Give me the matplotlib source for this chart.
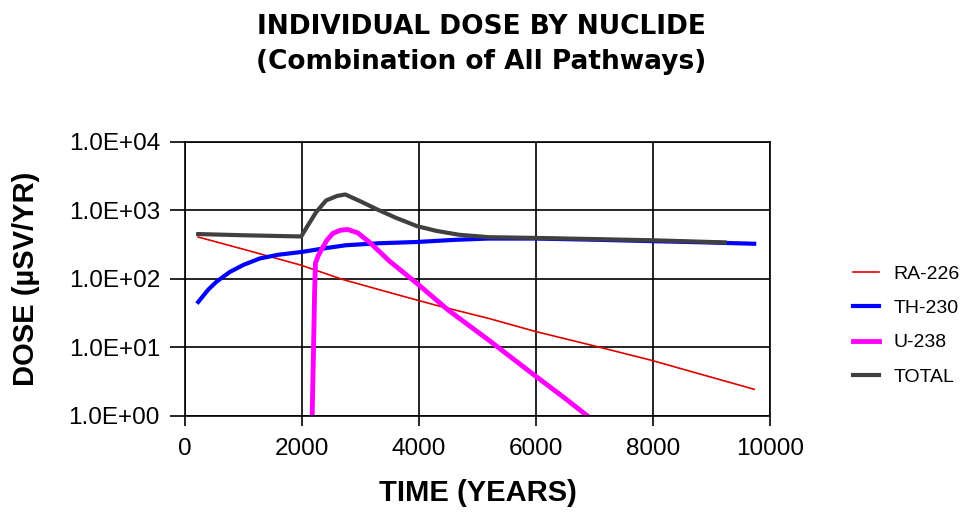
import matplotlib
matplotlib.use("Agg")
import matplotlib.pyplot as plt

# values (years, uSv/yr)
ra_years = [226, 1000, 1986, 2695, 3500, 4300, 5191, 6000, 7000, 7970, 8800, 9730]
ra_dose = [407, 270, 158, 98, 63, 41, 26.5, 17, 10.5, 6.5, 4.1, 2.45]

th_years = [226, 400, 540, 766, 1000, 1277, 1600, 1986, 2400, 2750, 3300, 3971, 4600, 5190, 5987, 7000, 7970, 8900, 9730]
th_dose = [46, 70, 91, 126, 160, 198, 225, 246, 280, 309, 330, 345, 370, 387, 387, 372, 355, 340, 325]

u_years = [2160, 2174, 2196, 2215, 2230, 2280, 2327, 2420, 2524, 2650, 2780, 2950, 3149, 3500, 3971, 4500, 5191, 5928, 6500, 6837, 6950]
u_dose = [0.5, 1.0, 8.3, 60, 170, 220, 260, 360, 458, 510, 525, 470, 345, 180, 85, 35, 12.8, 4.2, 1.8, 1.07, 0.9]

tot_years = [226, 1000, 1986, 2100, 2242, 2412, 2600, 2740, 3000, 3263, 3600, 3971, 4300, 4681, 5190, 6000, 7000, 8000, 9225]
tot_dose = [450, 432, 415, 600, 940, 1390, 1620, 1700, 1350, 1050, 780, 585, 500, 440, 405, 395, 380, 365, 340]

x_ticks = [0, 2000, 4000, 6000, 8000, 10000]
y_ticks = [1, 10, 100, 1000, 10000]
y_labels = ["1.0E+00", "1.0E+01", "1.0E+02", "1.0E+03", "1.0E+04"]

plt.rcParams["font.family"] = ["Liberation Sans", "DejaVu Sans"]

fig = plt.figure(figsize=(9.62, 5.14), dpi=100)
ax = fig.add_axes([0.1923, 0.1907, 0.6081, 0.5336])

ax.plot(ra_years, ra_dose, color="#e00000", lw=1.2, label="RA-226")
ax.plot(th_years, th_dose, color="#0000ff", lw=3.0, label="TH-230")
ax.plot(u_years, u_dose, color="#ff00ff", lw=3.5, label="U-238")
ax.plot(tot_years, tot_dose, color="#404040", lw=3.0, label="TOTAL")

ax.set_yscale("log")
ax.set_xlim(0, 10000)
ax.set_ylim(1, 10000)
ax.set_xticks(x_ticks)
ax.set_xticklabels([str(v) for v in x_ticks], fontsize=17.5)
ax.set_yticks(y_ticks)
ax.set_yticklabels(y_labels, fontsize=17.5)
ax.minorticks_off()
ax.tick_params(axis="x", direction="out", length=7, width=1.2, color="black", pad=9)
ax.tick_params(axis="y", direction="out", length=11, width=1.2, color="black", pad=7)
ax.grid(True, color="black", lw=1.2)
for s in ax.spines.values():
    s.set_color("black")
    s.set_linewidth(1.2)

ax.set_xlabel("TIME (YEARS)", fontsize=21, fontweight="bold")
ax.set_ylabel("DOSE (\u00b5SV/YR)", fontsize=21, fontweight="bold")
ax.xaxis.set_label_coords(0.5, -0.23)
ax.yaxis.set_label_coords(-0.248, 0.5)

fig.text(0.5, 0.972, "INDIVIDUAL DOSE BY NUCLIDE\n(Combination of All Pathways)",
         ha="center", va="top", fontsize=19, fontweight="bold",
         family=["DejaVu Sans"], linespacing=1.42)

leg = fig.legend(loc="center left", bbox_to_anchor=(0.8867, 0.3667), frameon=False,
                 fontsize=14, handlelength=1.35, labelspacing=0.85, handletextpad=0.75,
                 borderpad=0, borderaxespad=0)

fig.savefig("out.png", dpi=100)
